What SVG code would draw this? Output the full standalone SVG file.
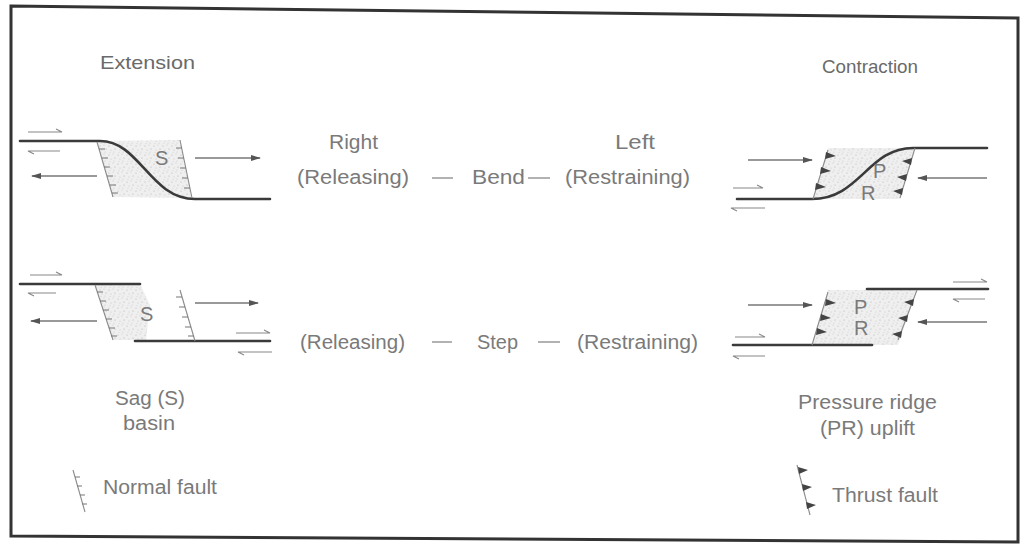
<svg xmlns="http://www.w3.org/2000/svg" width="1021" height="544" viewBox="0 0 1021 544">
  <style>
    .lbl { font-family: "Liberation Sans", Arial, sans-serif; fill: #7a7a7a; font-size: 20px; }
    .big { font-family: "Liberation Sans", Arial, sans-serif; fill: #6a6a6a; font-size: 19px; }
    .trace { fill: none; stroke: #3a3a3a; stroke-width: 2.6; stroke-linecap: round; }
    .arrow { fill: none; stroke: #777; stroke-width: 1.3; }
    .half { fill: none; stroke: #888; stroke-width: 1.1; }
    .fault { fill: none; stroke: #8a8a8a; stroke-width: 1.1; }
    .tick { fill: none; stroke: #777; stroke-width: 1.1; }
    .tri { fill: #444; }
    .dash { stroke: #888; stroke-width: 1.3; }
    .basin { fill: url(#stipple); }
  </style>
  <defs>
    <pattern id="stipple" width="9" height="9" patternUnits="userSpaceOnUse">
      <rect width="9" height="9" fill="#efefef"/>
      <circle cx="1" cy="2" r="0.6" fill="#b5b5b5"/>
      <circle cx="5" cy="1" r="0.5" fill="#c2c2c2"/>
      <circle cx="7" cy="5" r="0.6" fill="#b0b0b0"/>
      <circle cx="3" cy="6" r="0.5" fill="#bdbdbd"/>
      <circle cx="6" cy="8" r="0.5" fill="#c4c4c4"/>
      <circle cx="2" cy="8.5" r="0.4" fill="#bababa"/>
    </pattern>
    <marker id="head" viewBox="0 0 10 6" refX="9" refY="3" markerWidth="10" markerHeight="6" markerUnits="userSpaceOnUse" orient="auto">
      <path d="M0,0 L10,3 L0,6 Z" fill="#555"/>
    </marker>
  </defs>

  <!-- frame -->
  <path d="M11,6 L1018,18 L1018,542 L11,536 Z" fill="#fff" stroke="#333" stroke-width="3"/>

  <!-- headings -->
  <text class="big" x="100" y="69" textLength="95" lengthAdjust="spacingAndGlyphs">Extension</text>
  <text class="big" x="822" y="73" textLength="96" lengthAdjust="spacingAndGlyphs">Contraction</text>

  <!-- right bend: sag basin -->
  <g id="sag-bend">
    <path class="basin" d="M97,141 L180,140 L192,198 L113,197 Z"/>
    <path class="trace" d="M20,141 L100,141 C140,141 150,199 195,199 L270,199"/>
    <path class="fault" d="M97,142 L113,197"/>
    <path class="tick" d="M99,149 l6,0 M102,158 l6,0 M104,167 l6,0 M107,176 l6,0 M110,185 l6,0 M112,193 l6,0"/>
    <path class="fault" d="M180,140 L192,198"/>
    <path class="tick" d="M182,148 l-6,0 M184,158 l-6,0 M186,168 l-6,0 M188,178 l-6,0 M190,188 l-6,0"/>
    <text class="lbl" x="155" y="165">S</text>
    <path class="half" d="M28,132 L62,132 l-6,-3"/>
    <path class="half" d="M60,151 L28,151 l6,3"/>
    <path class="arrow" d="M97,176 L32,176" marker-end="url(#head)"/>
    <path class="arrow" d="M195,158 L260,158" marker-end="url(#head)"/>
  </g>

  <!-- right step: sag basin -->
  <g id="sag-step">
    <path class="basin" d="M95,284 L140,284 L150,305 L146,340 L113,340 Z"/>
    <path class="trace" d="M20,284 L140,284"/>
    <path class="trace" d="M135,341 L270,341"/>
    <path class="fault" d="M95,285 L113,340"/>
    <path class="tick" d="M97,292 l6,0 M100,301 l6,0 M103,310 l6,0 M106,319 l6,0 M109,328 l6,0 M111,336 l6,0"/>
    <path class="fault" d="M180,290 L195,341"/>
    <path class="tick" d="M182,297 l-6,0 M185,307 l-6,0 M188,317 l-6,0 M191,327 l-6,0 M194,336 l-6,0"/>
    <text class="lbl" x="140" y="321">S</text>
    <path class="half" d="M30,275 L62,275 l-6,-3"/>
    <path class="half" d="M56,293 L28,293 l6,3"/>
    <path class="arrow" d="M97,321 L31,321" marker-end="url(#head)"/>
    <path class="arrow" d="M195,303 L258,303" marker-end="url(#head)"/>
    <path class="half" d="M236,333 L270,333 l-6,-3"/>
    <path class="half" d="M272,352 L238,352 l6,3"/>
  </g>

  <!-- left bend: pressure ridge -->
  <g id="ridge-bend">
    <path class="basin" d="M828,148 L915,148 L900,199 L813,199 Z"/>
    <path class="trace" d="M737,199 L812,199 C860,199 868,148 913,148 L987,148"/>
    <path class="fault" d="M828,150 L813,199"/>
    <path class="tri" d="M826,152 l10,4 l-11,3 Z M821,167 l10,4 l-11,3 Z M816,183 l10,4 l-11,3 Z"/>
    <path class="fault" d="M915,148 L900,198"/>
    <path class="tri" d="M912,158 l-10,3 l9,4 Z M907,174 l-10,3 l9,4 Z M903,188 l-10,3 l9,4 Z"/>
    <text class="lbl" x="873" y="178">P</text>
    <text class="lbl" x="861" y="200">R</text>
    <path class="arrow" d="M748,160 L812,160" marker-end="url(#head)"/>
    <path class="arrow" d="M987,178 L918,178" marker-end="url(#head)"/>
    <path class="half" d="M733,188 L763,188 l-6,-3"/>
    <path class="half" d="M765,208 L731,208 l6,3"/>
  </g>

  <!-- left step: pressure ridge -->
  <g id="ridge-step">
    <path class="basin" d="M828,290 L917,290 L898,345 L812,345 Z"/>
    <path class="trace" d="M733,345 L872,345"/>
    <path class="trace" d="M867,289 L988,289"/>
    <path class="fault" d="M828,292 L812,345"/>
    <path class="tri" d="M826,299 l10,4 l-11,3 Z M821,314 l10,4 l-11,3 Z M817,328 l10,4 l-11,3 Z"/>
    <path class="fault" d="M917,290 L898,340"/>
    <path class="tri" d="M914,299 l-10,3 l9,4 Z M908,315 l-10,3 l9,4 Z M902,331 l-10,3 l9,4 Z"/>
    <text class="lbl" x="854" y="314">P</text>
    <text class="lbl" x="854" y="335">R</text>
    <path class="arrow" d="M748,305 L812,305" marker-end="url(#head)"/>
    <path class="arrow" d="M987,322 L918,322" marker-end="url(#head)"/>
    <path class="half" d="M953,282 L987,282 l-6,-3"/>
    <path class="half" d="M985,299 L953,299 l6,3"/>
    <path class="half" d="M735,337 L765,337 l-6,-3"/>
    <path class="half" d="M765,356 L733,356 l6,3"/>
  </g>

  <!-- bend / step terms -->
  <g id="terms">
    <text class="lbl" x="329" y="149" textLength="49" lengthAdjust="spacingAndGlyphs">Right</text>
    <text class="lbl" x="615" y="149" textLength="40" lengthAdjust="spacingAndGlyphs">Left</text>
    <text class="lbl" x="297" y="184" textLength="112" lengthAdjust="spacingAndGlyphs">(Releasing)</text>
    <line class="dash" x1="432" y1="178" x2="453" y2="178"/>
    <text class="lbl" x="472" y="184" textLength="53" lengthAdjust="spacingAndGlyphs">Bend</text>
    <line class="dash" x1="528" y1="178" x2="550" y2="178"/>
    <text class="lbl" x="565" y="184" textLength="125" lengthAdjust="spacingAndGlyphs">(Restraining)</text>
    <text class="lbl" x="300" y="349" textLength="105" lengthAdjust="spacingAndGlyphs">(Releasing)</text>
    <line class="dash" x1="432" y1="342" x2="452" y2="342"/>
    <text class="lbl" x="477" y="349" textLength="41" lengthAdjust="spacingAndGlyphs">Step</text>
    <line class="dash" x1="538" y1="342" x2="560" y2="342"/>
    <text class="lbl" x="577" y="349" textLength="121" lengthAdjust="spacingAndGlyphs">(Restraining)</text>
  </g>

  <!-- captions and legend -->
  <g id="legend">
    <text class="lbl" x="115" y="405" textLength="70" lengthAdjust="spacingAndGlyphs">Sag (S)</text>
    <text class="lbl" x="123" y="430" textLength="52" lengthAdjust="spacingAndGlyphs">basin</text>
    <path class="fault" d="M73,470 L85,512"/>
    <path class="tick" d="M75,477 l5,0 M77,486 l5,0 M80,495 l5,0 M82,504 l5,0"/>
    <text class="lbl" x="103" y="494" textLength="114" lengthAdjust="spacingAndGlyphs">Normal fault</text>

    <text class="lbl" x="798" y="409" textLength="139" lengthAdjust="spacingAndGlyphs">Pressure ridge</text>
    <text class="lbl" x="820" y="435" textLength="95" lengthAdjust="spacingAndGlyphs">(PR) uplift</text>
    <path class="fault" d="M797,465 L810,515"/>
    <path class="tri" d="M798,467 l10,3 l-9,4 Z M802,484 l10,3 l-9,4 Z M806,502 l10,3 l-9,4 Z"/>
    <text class="lbl" x="832" y="502" textLength="106" lengthAdjust="spacingAndGlyphs">Thrust fault</text>
  </g>
</svg>
